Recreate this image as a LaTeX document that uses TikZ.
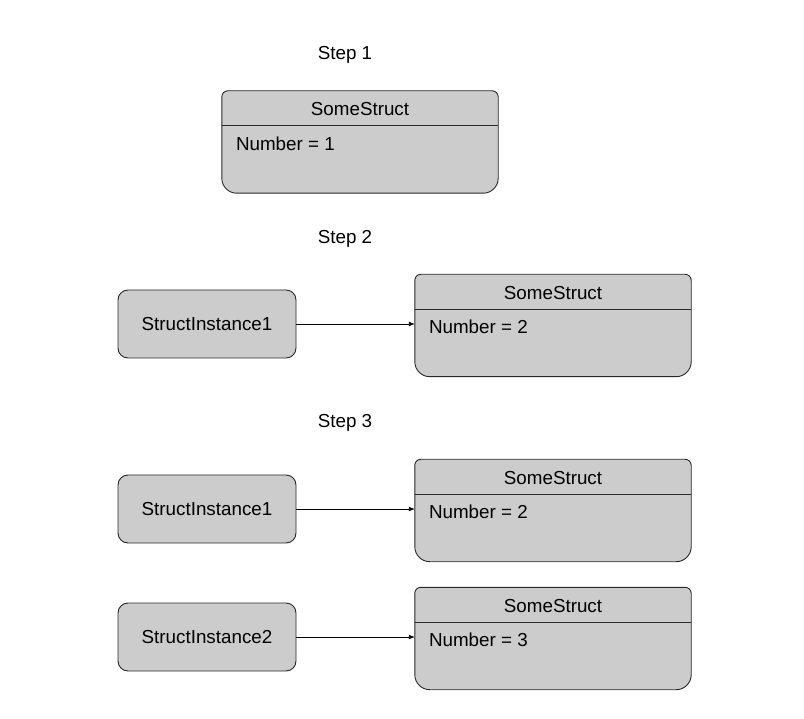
\documentclass[tikz,border=0pt]{standalone}
\usepackage{fontspec}
\setmainfont{Liberation Sans}
\usetikzlibrary{arrows.meta}
\definecolor{boxfill}{RGB}{204,204,204}
\definecolor{boxline}{RGB}{40,40,40}
\tikzset{
  lbl/.style={font=\fontsize{18.8}{22}\selectfont, inner sep=0pt},
  inst/.style={draw=boxline, fill=boxfill, line width=0.9pt, rounded corners=10pt,
    minimum width=178pt, minimum height=68pt, font=\fontsize{18.8}{22}\selectfont, inner sep=0pt},
  sframe/.style={minimum width=276pt, minimum height=102pt, inner sep=0pt, draw=none},
  conn/.style={draw=black, line width=0.9pt, -{Latex[length=6pt,width=5pt]}},
}
\newcommand{\structbox}[4]{% name, center, number text, dummy
  \node[sframe] (#1) at #2 {};
  \draw[draw=boxline, fill=boxfill, line width=0.9pt]
    ([yshift=-6pt]#1.north west) arc[start angle=180,end angle=90,radius=6pt]
    -- ([xshift=-6pt]#1.north east) arc[start angle=90,end angle=0,radius=6pt]
    -- ([yshift=15pt]#1.south east) arc[start angle=0,end angle=-90,radius=15pt]
    -- ([xshift=15pt]#1.south west) arc[start angle=270,end angle=180,radius=15pt]
    -- cycle;
  \draw[draw=boxline, line width=0.9pt] ([yshift=-35pt]#1.north west) -- ([yshift=-35pt]#1.north east);
  \node[lbl] (#1t) at ([yshift=-18.5pt]#1.north) {SomeStruct};
  \node[lbl, anchor=west] (#1n) at ([xshift=14pt,yshift=-52.5pt]#1.north west) {#3};
}
\begin{document}
\begin{tikzpicture}[x=1pt,y=-1pt]
\useasboundingbox[fill=white] (0,0) rectangle (804,719);
\node[lbl] (st1) at (345,55) {Step 1};
\structbox{s1}{(360,142)}{Number = 1}{}
\node[lbl] (st2) at (345,239) {Step 2};
\node[inst] (i21) at (207,324) {StructInstance1};
\structbox{s2}{(553,325.5)}{Number = 2}{}
\draw[conn] (i21.east) -- (i21.east -| s2.west);
\node[lbl] (st3) at (345,423) {Step 3};
\node[inst] (i31) at (207,509) {StructInstance1};
\structbox{s3}{(553,510.5)}{Number = 2}{}
\draw[conn] (i31.east) -- (i31.east -| s3.west);
\node[inst] (i32) at (207,637) {StructInstance2};
\structbox{s4}{(553,638.5)}{Number = 3}{}
\draw[conn] (i32.east) -- (i32.east -| s4.west);
\end{tikzpicture}
\end{document}
